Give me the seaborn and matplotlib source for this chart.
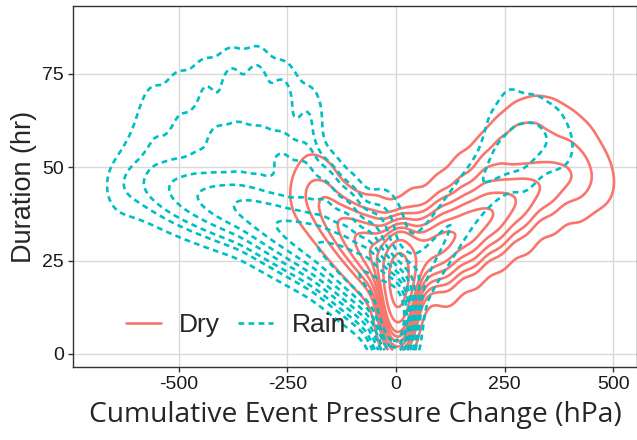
import numpy as np
import pandas as pd
import seaborn as sns
import matplotlib
matplotlib.use("Agg")
import matplotlib.pyplot as plt
from matplotlib.lines import Line2D

# Representative event clusters: pressure change (hPa), duration (hr), weight
dry_x = [3, 4, 5, 6, 8,
         32, 62, 92, 122, 152, 182, 212, 242, 272, 302, 332, 362, 392, 422, 452, 482, 510,
         100, 150, 200, 240, 280, 320, 360, 400, 440, 480,
         120, 180, 240, 300, 360, 420,
         -25, -55, -85, -115, -145, -175, -205, -235, -200, -160,
         -40, 40]
dry_y = [7, 12, 17, 22, 27,
         24, 27, 29, 31, 33, 35, 37, 39, 41, 43, 45, 46, 47, 47, 46, 45, 45,
         42, 47, 50, 55, 59, 61, 61, 59, 57, 54,
         20, 25, 29, 32, 36, 38,
         24, 27, 30, 33, 36, 39, 42, 43, 50, 47,
         38, 40]
dry_w = [1.0, 3, 5, 4.5, 2.5,
         2.6, 2.5, 2.4, 2.3, 2.1, 2.0, 1.8, 1.6, 1.4, 1.2, 1.0, 0.85, 0.7, 0.6, 0.45, 0.3, 0.15,
         0.5, 0.6, 0.8, 0.8, 0.8, 0.7, 0.6, 0.5, 0.35, 0.15,
         0.6, 0.6, 0.5, 0.4, 0.3, 0.2,
         2.2, 1.9, 1.6, 1.3, 1.0, 0.75, 0.5, 0.3, 0.25, 0.3,
         0.3, 0.4]

rain_x = [0, -3, -6,
          -40, -75, -110, -145, -180, -215, -250, -285, -320, -355, -390, -425, -460, -495, -530, -565, -600, -635, -665,
          -60, -110, -160, -210, -260, -310, -360, -410, -460, -510, -560, -610,
          -200, -260, -320, -380, -440, -500, -560, -610,
          30, 65, 100, 135, 170, 205, 240, 275, 310, 345, 380, 410,
          220, 270, 320, 370, 300, 250,
          -30, 0]
rain_y = [3, 8, 12,
          17, 20, 23, 26, 29, 31, 33, 35, 37, 39, 40, 41, 42, 43, 44, 45, 45, 45, 45,
          30, 37, 43, 48, 52, 55, 57, 58, 58, 58, 58, 55,
          64, 70, 74, 74, 72, 70, 68, 64,
          18, 24, 30, 36, 42, 47, 51, 54, 56, 56, 55, 55,
          62, 66, 66, 64, 45, 72,
          38, 33]
rain_w = [0.8, 3, 4,
          3.0, 2.8, 2.6, 2.4, 2.2, 2.0, 1.85, 1.7, 1.55, 1.4, 1.25, 1.1, 0.95, 0.8, 0.65, 0.5, 0.35, 0.3, 0.12,
          1.0, 1.1, 1.1, 1.1, 1.0, 0.9, 0.8, 0.65, 0.5, 0.35, 0.3, 0.12,
          0.5, 0.6, 0.6, 0.55, 0.45, 0.35, 0.25, 0.1,
          0.5, 0.45, 0.4, 0.38, 0.35, 0.35, 0.38, 0.38, 0.33, 0.28, 0.2, 0.13,
          0.2, 0.22, 0.2, 0.14, 0.14, 0.08,
          0.3, 0.3]

x_ticks = [-500, -250, 0, 250, 500]
y_ticks = [0, 25, 50, 75]

dry_color = "#F8766D"
rain_color = "#00BFC4"
rain_dash = (0, (2.2, 1.6))


def axis_bandwidth(hx, hy):
    """Axis-aligned Gaussian kernel (like MASS::kde2d used by ggplot2)."""
    def bw(kde):
        cov = np.diag([hx ** 2, hy ** 2])
        kde._data_covariance = cov
        kde._data_cho_cov = np.linalg.cholesky(cov)
        kde._data_inv_cov = np.linalg.inv(cov)
        return 1.0
    return bw


dry = pd.DataFrame({"x": dry_x, "y": dry_y, "w": dry_w})
rain = pd.DataFrame({"x": rain_x, "y": rain_y, "w": rain_w})

sns.set_theme(style="whitegrid")
plt.rcParams["font.family"] = ["Liberation Sans", "DejaVu Sans"]
plt.rcParams["axes.unicode_minus"] = False

fig = plt.figure(figsize=(6.37, 4.40), dpi=100)
ax = fig.add_axes([73 / 637, 1 - 367 / 440, 1 - 73 / 637, (367 - 6) / 440])

clip = ((-720, 540), (1, 95))
sns.kdeplot(data=dry, x="x", y="y", weights="w", ax=ax, color=dry_color,
            bw_method=axis_bandwidth(23, 6.5), clip=clip, cut=8, levels=10,
            thresh=0.05, gridsize=250, linewidths=1.9)
n_before = len(ax.collections)
sns.kdeplot(data=rain, x="x", y="y", weights="w", ax=ax, color=rain_color,
            bw_method=axis_bandwidth(25, 6.5), clip=clip, cut=8, levels=10,
            thresh=0.05, gridsize=250, linewidths=1.9)
for c in ax.collections[n_before:]:
    c.set_linestyle(rain_dash)

ax.set_xlim(-744, 555)
ax.set_ylim(-3.5, 93.2)
ax.set_xticks(x_ticks)
ax.set_yticks(y_ticks)
ax.grid(True, color="#D9D9D9", linewidth=1.0)
ax.set_axisbelow(True)
for s in ax.spines.values():
    s.set_color("#333333")
    s.set_linewidth(1.0)
ax.tick_params(axis="both", which="major", length=3.5, width=1, color="#333333",
               labelsize=14, labelcolor="#1a1a1a", pad=3, direction="out",
               bottom=True, left=True)
ax.set_xlabel("Cumulative Event Pressure Change (hPa)", fontsize=20.3,
              fontfamily=["Open Sans", "DejaVu Sans"], labelpad=6)
ax.set_ylabel("Duration (hr)", fontsize=19.5, labelpad=4)

handles = [Line2D([0], [0], color=dry_color, lw=1.9, ls="solid"),
           Line2D([0], [0], color=rain_color, lw=1.9, ls=rain_dash)]
ax.legend(handles, ["Dry", "Rain"], loc="center left", bbox_to_anchor=(0.075, 0.115),
          ncol=2, frameon=False, fontsize=19, handlelength=1.33, columnspacing=0.7,
          handletextpad=0.68, borderaxespad=0)

fig.savefig("out.png", dpi=100)
